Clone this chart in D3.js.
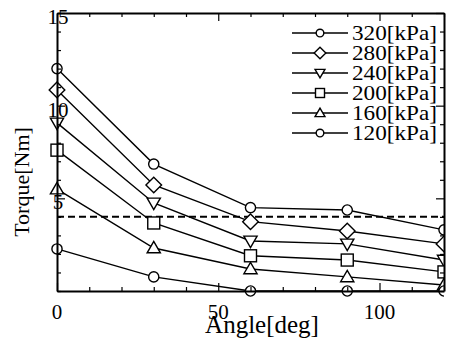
<!DOCTYPE html>
<html>
<head>
<meta charset="utf-8">
<script src="https://cdn.jsdelivr.net/npm/d3@7"></script>
<style>
  body { margin: 0; background: #fff; }
</style>
</head>
<body>
<div id="chart"></div>
<script>
// ---------- data
var angles = [0, 30, 60, 90, 120];
var pressures = ["320[kPa]", "280[kPa]", "240[kPa]", "200[kPa]", "160[kPa]", "120[kPa]"];
var shapes = ["circle", "diamond", "down", "square", "up", "circle"];
var torque320 = [12.0, 6.85, 4.5, 4.37, 3.3];
var torque280 = [10.85, 5.72, 3.74, 3.24, 2.54];
var torque240 = [9.07, 4.75, 2.7, 2.54, 1.67];
var torque200 = [7.6, 3.67, 1.9, 1.67, 1.03];
var torque160 = [5.5, 2.32, 1.19, 0.76, 0.32];
var torque120 = [2.27, 0.76, 0.0, 0.0, 0.0];
var reference = 4;
var xMajor = [0, 50, 100];
var yMajor = [5, 10, 15];

var series = [torque320, torque280, torque240, torque200, torque160, torque120];

var W = 450, H = 338;
var margin = {top: 13, right: 6, bottom: 47, left: 57};
var w = W - margin.left - margin.right;
var h = H - margin.top - margin.bottom;
var FONT = "'Liberation Serif', 'Times New Roman', 'DejaVu Serif', serif";

var svg = d3.select("#chart").append("svg")
    .attr("width", W)
    .attr("height", H)
    .style("font-family", FONT);

var g = svg.append("g")
    .attr("transform", "translate(" + margin.left + "," + margin.top + ")");

var x = d3.scaleLinear().domain([0, 120]).range([0, w]);
var y = d3.scaleLinear().domain([0, 15]).range([h, 0]);

// clip only on the right so the last markers are cut by the frame
g.append("clipPath").attr("id", "clip")
  .append("rect")
    .attr("x", -20).attr("y", -20)
    .attr("width", w + 20).attr("height", h + 40);

// ---------- markers
function marker(sel, shape, s) {
    if (shape == "circle") {
        sel.append("circle").attr("r", s * 0.85);
    } else if (shape == "diamond") {
        sel.append("path").attr("d", "M0," + (-s * 1.3) + "L" + (s * 1.3) + ",0L0," + (s * 1.3) + "L" + (-s * 1.3) + ",0Z");
    } else if (shape == "square") {
        sel.append("rect").attr("x", -s).attr("y", -s).attr("width", 2 * s).attr("height", 2 * s);
    } else if (shape == "down") {
        sel.append("path").attr("d", "M" + (-s * 1.1) + "," + (-s * 0.8) + "L" + (s * 1.1) + "," + (-s * 0.8) + "L0," + (s * 1.1) + "Z");
    } else if (shape == "up") {
        sel.append("path").attr("d", "M" + (-s * 1.1) + "," + (s * 0.8) + "L" + (s * 1.1) + "," + (s * 0.8) + "L0," + (-s * 1.1) + "Z");
    }
    sel.selectAll("*")
        .attr("fill", "#fff")
        .attr("stroke", "#000")
        .attr("stroke-width", 1.4);
}

var line = d3.line()
    .x(function(d, i) { return x(angles[i]); })
    .y(function(d) { return y(d); });

var plot = g.append("g").attr("clip-path", "url(#clip)");

// dashed reference line
plot.append("line")
    .attr("x1", x(0)).attr("x2", x(120))
    .attr("y1", y(reference)).attr("y2", y(reference))
    .attr("stroke", "#000")
    .attr("stroke-width", 2)
    .attr("stroke-dasharray", "7,4");

series.forEach(function(vals, k) {
    plot.append("path")
        .attr("d", line(vals))
        .attr("fill", "none")
        .attr("stroke", "#000")
        .attr("stroke-width", 1.4);
});

series.forEach(function(vals, k) {
    vals.forEach(function(v, i) {
        var m = plot.append("g")
            .attr("transform", "translate(" + x(angles[i]) + "," + y(v) + ")");
        marker(m, shapes[k], 6);
    });
});

// ---------- axes (ticks inward, on all four sides)
var xAxis = d3.axisBottom(x).tickValues(d3.range(0, 121, 10)).tickSizeOuter(0).tickSizeInner(-4).tickFormat("");
var xTop = d3.axisTop(x).tickValues(d3.range(0, 121, 10)).tickSizeOuter(0).tickSizeInner(-4).tickFormat("");
var yAxis = d3.axisLeft(y).tickValues(d3.range(0, 16, 1)).tickSizeOuter(0).tickSizeInner(-4).tickFormat("");
var yRight = d3.axisRight(y).tickValues(d3.range(0, 16, 1)).tickSizeOuter(0).tickSizeInner(-4).tickFormat("");

var gx = g.append("g").attr("transform", "translate(0," + h + ")").call(xAxis);
var gxt = g.append("g").call(xTop);
var gy = g.append("g").call(yAxis);
var gyr = g.append("g").attr("transform", "translate(" + w + ",0)").call(yRight);

[gx, gxt, gy, gyr].forEach(function(a) {
    a.select(".domain").attr("stroke", "#000").attr("stroke-width", 2);
    a.selectAll(".tick line").attr("stroke", "#000").attr("stroke-width", 1.2);
});

// longer major ticks
gx.selectAll(".tick line").attr("y2", function(d) { return xMajor.indexOf(d) >= 0 ? -8 : -4; });
gxt.selectAll(".tick line").attr("y2", function(d) { return xMajor.indexOf(d) >= 0 ? 8 : 4; });
gy.selectAll(".tick line").attr("x2", function(d) { return yMajor.indexOf(d) >= 0 ? 8 : 4; });
gyr.selectAll(".tick line").attr("x2", function(d) { return yMajor.indexOf(d) >= 0 ? -8 : -4; });

// tick labels
g.selectAll(".xlab").data(xMajor)
  .enter().append("text")
    .attr("x", function(d) { return x(d); })
    .attr("y", h + 28)
    .attr("text-anchor", "middle")
    .attr("font-family", FONT)
    .style("font-size", "21px")
    .text(function(d) { return d; });

g.selectAll(".ylab").data(yMajor)
  .enter().append("text")
    .attr("x", 1)
    .attr("y", function(d) { return y(d) + 11; })
    .attr("text-anchor", "middle")
    .attr("font-family", FONT)
    .style("font-size", "21px")
    .text(function(d) { return d; });

// axis titles
svg.append("text")
    .attr("x", 262)
    .attr("y", 333)
    .attr("text-anchor", "middle")
    .attr("font-family", FONT)
    .style("font-size", "25px")
    .text("Angle[deg]");

svg.append("text")
    .attr("transform", "translate(29,182) rotate(-90)")
    .attr("text-anchor", "middle")
    .attr("font-family", FONT)
    .style("font-size", "22px")
    .text("Torque[Nm]");

// ---------- legend
var legend = svg.append("g");
pressures.forEach(function(p, k) {
    var ly = 33 + k * 20;
    legend.append("line")
        .attr("x1", 292).attr("x2", 348)
        .attr("y1", ly).attr("y2", ly)
        .attr("stroke", "#000")
        .attr("stroke-width", 1.4);
    var m = legend.append("g").attr("transform", "translate(320," + ly + ")");
    marker(m, shapes[k], 4.5);
    legend.append("text")
        .attr("x", 352)
        .attr("y", ly + 7)
        .attr("font-family", FONT)
        .style("font-size", "21px")
        .attr("textLength", 85)
        .attr("lengthAdjust", "spacingAndGlyphs")
        .text(p);
});
</script>
</body>
</html>
